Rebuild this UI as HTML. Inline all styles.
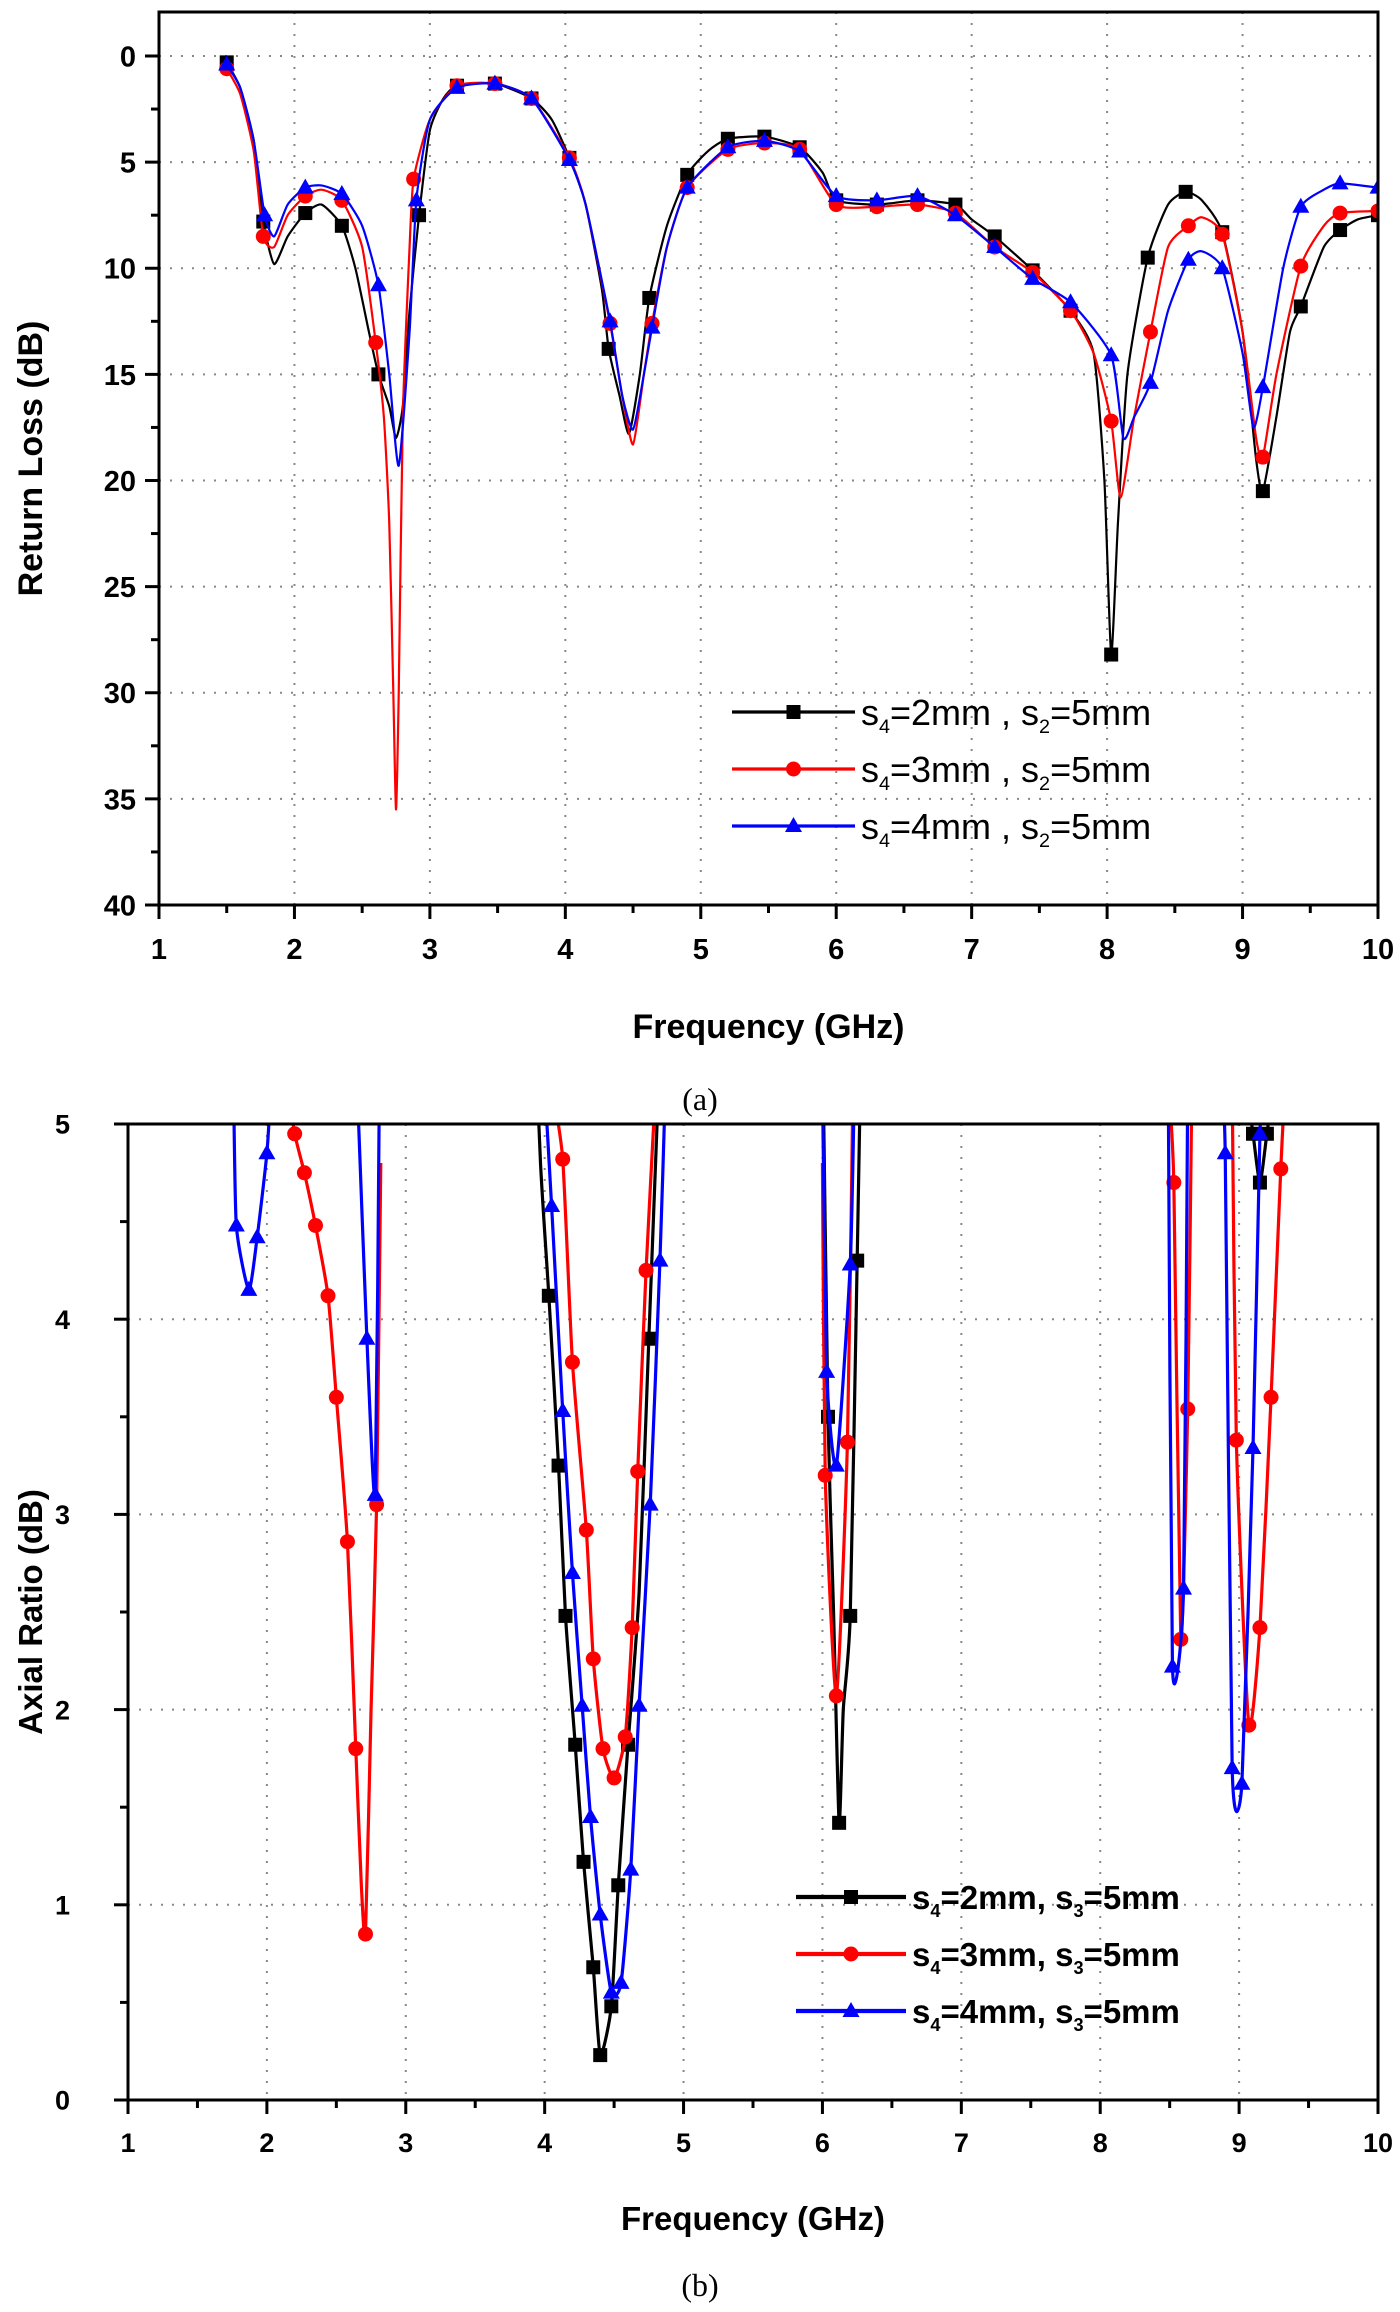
<!DOCTYPE html>
<html><head><meta charset="utf-8"><style>
body{margin:0;background:#fff;}
svg{display:block;font-family:"Liberation Sans",sans-serif;}
</style></head><body>
<svg id="s" width="1400" height="2312" viewBox="0 0 1400 2312"></svg>
<script>
// ---------- Chart (a) data: Return loss ----------
const aXTicks=[1,2,3,4,5,6,7,8,9,10];
const aYTicks=[0,5,10,15,20,25,30,35,40];
// [freq, dB, marker(1/0)]
const aS2=[[1.5,0.3,1],[1.6,1.5,0],[1.7,4,0],[1.77,7.8,1],[1.85,9.8,0],[1.95,8.5,0],[2.08,7.4,1],[2.2,7,0],[2.35,8,1],[2.45,10,0],[2.55,13,0],[2.62,15,1],[2.7,16.5,0],[2.75,18,0],[2.8,16.5,0],[2.85,12,0],[2.92,7.5,1],[3.0,3.5,0],[3.1,2,0],[3.2,1.4,1],[3.48,1.3,1],[3.75,2,1],[3.9,3,0],[4.03,4.8,1],[4.15,7,0],[4.27,11,0],[4.32,13.8,1],[4.4,16,0],[4.47,17.8,0],[4.55,15,0],[4.62,11.4,1],[4.75,8,0],[4.9,5.6,1],[5.05,4.5,0],[5.2,3.9,1],[5.47,3.8,1],[5.73,4.3,1],[5.9,5.5,0],[6.0,6.8,1],[6.3,7,1],[6.6,6.8,1],[6.88,7,1],[7.0,7.7,0],[7.17,8.5,1],[7.45,10.1,1],[7.73,12,1],[7.9,14,0],[7.98,20,0],[8.03,28.2,1],[8.08,22,0],[8.15,15,0],[8.3,9.5,1],[8.45,7,0],[8.58,6.4,1],[8.7,6.8,0],[8.85,8.3,1],[9.0,13,0],[9.1,19,0],[9.15,20.5,1],[9.25,17,0],[9.35,13,0],[9.43,11.8,1],[9.6,9,0],[9.72,8.2,1],[9.85,7.7,0],[10,7.5,1]];
const aS3=[[1.5,0.6,1],[1.6,1.8,0],[1.7,4.5,0],[1.77,8.5,1],[1.85,9,0],[1.95,7.5,0],[2.08,6.6,1],[2.2,6.3,0],[2.35,6.8,1],[2.5,9,0],[2.6,13.5,1],[2.66,17,0],[2.7,22,0],[2.73,30,0],[2.75,35.5,0],[2.77,30,0],[2.8,17,0],[2.85,9,0],[2.88,5.8,1],[3.0,3,0],[3.2,1.4,1],[3.48,1.3,1],[3.75,2,1],[4.03,4.8,1],[4.15,7,0],[4.33,12.6,1],[4.42,16,0],[4.5,18.3,0],[4.58,15,0],[4.64,12.6,1],[4.75,9,0],[4.9,6.2,1],[5.2,4.4,1],[5.47,4.1,1],[5.73,4.4,1],[6.0,7,1],[6.3,7.1,1],[6.6,7,1],[6.88,7.4,1],[7.17,9,1],[7.45,10.2,1],[7.73,12,1],[7.9,14,0],[8.03,17.2,1],[8.1,20.8,0],[8.2,17,0],[8.32,13,1],[8.45,9,0],[8.6,8,1],[8.7,7.6,0],[8.85,8.4,1],[9.0,13,0],[9.1,18,0],[9.15,18.9,1],[9.25,15,0],[9.43,9.9,1],[9.6,8,0],[9.72,7.4,1],[10,7.3,1]];
const aS4=[[1.5,0.4,1],[1.6,1.5,0],[1.7,4,0],[1.78,7.5,1],[1.85,8.5,0],[1.95,7,0],[2.08,6.2,1],[2.2,6.1,0],[2.35,6.5,1],[2.5,8,0],[2.62,10.8,1],[2.7,15,0],[2.77,19.3,0],[2.85,13,0],[2.9,6.8,1],[3.0,3,0],[3.2,1.5,1],[3.48,1.3,1],[3.75,2,1],[4.03,4.9,1],[4.15,7,0],[4.33,12.5,1],[4.42,16,0],[4.5,17.6,0],[4.58,15,0],[4.64,12.8,1],[4.75,9,0],[4.9,6.2,1],[5.2,4.3,1],[5.47,4,1],[5.73,4.5,1],[6.0,6.6,1],[6.3,6.8,1],[6.6,6.6,1],[6.88,7.5,1],[7.17,9,1],[7.45,10.5,1],[7.73,11.6,1],[8.03,14.1,1],[8.12,18,0],[8.2,17,0],[8.32,15.4,1],[8.45,12,0],[8.6,9.6,1],[8.7,9.2,0],[8.85,10,1],[9.0,14,0],[9.08,17.5,0],[9.15,15.6,1],[9.3,10,0],[9.43,7.1,1],[9.6,6.3,0],[9.72,6,1],[10,6.2,1]];
// ---------- Chart (b) data: Axial ratio (branches) ----------
const bXTicks=[1,2,3,4,5,6,7,8,9,10];
const bYTicks=[0,1,2,3,4,5];
const bS2=[
 [[3.9,6,0],[3.97,4.8,0],[4.03,4.12,1],[4.1,3.25,1],[4.15,2.48,1],[4.22,1.82,1],[4.28,1.22,1],[4.35,0.68,1],[4.4,0.23,1],[4.48,0.48,1],[4.53,1.1,1],[4.6,1.82,1],[4.68,2.6,0],[4.75,3.9,1],[4.82,5.2,0]],
 [[6.0,5.5,0],[6.04,3.5,1],[6.08,2.5,0],[6.12,1.42,1],[6.15,2,0],[6.2,2.48,1],[6.25,4.3,1],[6.28,5.5,0]],
 [[9.05,5.2,0],[9.1,4.95,1],[9.15,4.7,1],[9.2,4.95,1],[9.25,5.2,0]]];
const bS3=[
 [[2.15,5.2,0],[2.2,4.95,1],[2.27,4.75,1],[2.35,4.48,1],[2.44,4.12,1],[2.5,3.6,1],[2.58,2.86,1],[2.64,1.8,1],[2.68,1.1,0],[2.71,0.85,1],[2.75,2,0],[2.79,3.05,1],[2.82,4.8,0]],
 [[4.05,5.2,0],[4.13,4.82,1],[4.2,3.78,1],[4.3,2.92,1],[4.35,2.26,1],[4.42,1.8,1],[4.5,1.65,1],[4.58,1.86,1],[4.63,2.42,1],[4.67,3.22,1],[4.73,4.25,1],[4.8,5.2,0]],
 [[6.0,4.8,0],[6.02,3.2,1],[6.1,2.07,1],[6.18,3.37,1],[6.22,5.2,0]],
 [[8.49,5.2,0],[8.53,4.7,1],[8.58,2.36,1],[8.63,3.54,1],[8.66,5.2,0]],
 [[8.95,5.2,0],[8.98,3.38,1],[9.07,1.92,1],[9.15,2.42,1],[9.23,3.6,1],[9.3,4.77,1],[9.33,5.2,0]]];
const bS4=[
 [[1.76,5.2,0],[1.78,4.48,1],[1.87,4.15,1],[1.93,4.42,1],[2.0,4.85,1],[2.03,5.2,0]],
 [[2.65,5.2,0],[2.72,3.9,1],[2.78,3.1,1],[2.81,5.2,0]],
 [[4.0,5.2,0],[4.05,4.58,1],[4.13,3.53,1],[4.2,2.7,1],[4.27,2.02,1],[4.33,1.45,1],[4.4,0.95,1],[4.48,0.55,1],[4.55,0.6,1],[4.62,1.18,1],[4.68,2.02,1],[4.76,3.05,1],[4.83,4.3,1],[4.87,5.2,0]],
 [[6.0,5.2,0],[6.03,3.73,1],[6.1,3.25,1],[6.2,4.28,1],[6.23,5.2,0]],
 [[8.49,5.2,0],[8.52,2.22,1],[8.6,2.62,1],[8.63,5.2,0]],
 [[8.87,5.2,0],[8.9,4.85,1],[8.95,1.7,1],[9.02,1.62,1],[9.1,3.34,1],[9.15,4.95,1],[9.17,5.2,0]]];

const NS='http://www.w3.org/2000/svg';
const svg=document.getElementById('s');
function mk(tag,attrs,parent){const e=document.createElementNS(NS,tag);for(const k in attrs)e.setAttribute(k,attrs[k]);(parent||svg).appendChild(e);return e;}
function smooth(pts){let d='M'+pts[0][0]+','+pts[0][1];for(let i=0;i<pts.length-1;i++){const p0=pts[i-1]||pts[i],p1=pts[i],p2=pts[i+1],p3=pts[i+2]||p2;const t=0.1;d+=' C'+(p1[0]+(p2[0]-p0[0])*t)+','+(p1[1]+(p2[1]-p0[1])*t)+' '+(p2[0]-(p3[0]-p1[0])*t)+','+(p2[1]-(p3[1]-p1[1])*t)+' '+p2[0]+','+p2[1];}return d;}
function marker(g,kind,x,y,col){
 if(kind==='sq'){const m=mk('rect',{x:x-7,y:y-7,width:14,height:14,fill:col},g);}
 else if(kind==='ci'){const m=mk('circle',{cx:x,cy:y,r:7.5,fill:col},g);}
 else {const m=mk('polygon',{points:(x)+','+(y-9)+' '+(x-8.5)+','+(y+6)+' '+(x+8.5)+','+(y+6),fill:col},g);}
}
function chart(o){
 const g=mk('g',{});
 const X=v=>o.x0+(v-o.xmin)/(o.xmax-o.xmin)*(o.x1-o.x0);
 const Y=v=>o.yZero+(v-o.yv0)/(o.yv1-o.yv0)*(o.yOne-o.yZero);
 const cid='clip'+o.name;const cp=mk('clipPath',{id:cid},g);mk('rect',{x:o.x0,y:o.top,width:o.x1-o.x0,height:o.bot-o.top},cp);
 const gg=mk('g',{stroke:'#888','stroke-width':2,'stroke-dasharray':'2,9'},g);
 o.xt.forEach(v=>{if(v>o.xmin&&v<o.xmax)mk('line',{x1:X(v),x2:X(v),y1:o.top,y2:o.bot},gg);});
 o.yt.forEach(v=>{const y=Y(v);if(y>o.top+2&&y<o.bot-2)mk('line',{x1:o.x0,x2:o.x1,y1:y,y2:y},gg);});
 o.series.forEach(s=>{const sg=mk('g',{'clip-path':'url(#'+cid+')'},g);
  s.branches.forEach(br=>{const pts=br.map(p=>[X(p[0]),Y(p[1])]);const pa=mk('path',{d:smooth(pts),fill:'none',stroke:s.col,'stroke-width':o.lw},sg);
   br.forEach(p=>{if(p[2])marker(sg,s.kind,X(p[0]),Y(p[1]),s.col);});});});
 const fr=mk('rect',{x:o.x0,y:o.top,width:o.x1-o.x0,height:o.bot-o.top,fill:'none',stroke:'#000','stroke-width':3},g);
 const tg=mk('g',{stroke:'#000','stroke-width':3},g);
 for(let v=o.xmin;v<=o.xmax+1e-9;v+=0.5){const major=Math.abs(v-Math.round(v))<1e-6;mk('line',{x1:X(v),x2:X(v),y1:o.bot,y2:o.bot+(major?14:8)},tg);}
 for(let i=0;i<o.yt.length;i++){const v=o.yt[i];mk('line',{x1:o.x0,x2:o.x0-14,y1:Y(v),y2:Y(v)},tg);if(i<o.yt.length-1){const m=(v+o.yt[i+1])/2;mk('line',{x1:o.x0,x2:o.x0-8,y1:Y(m),y2:Y(m)},tg);}}
 o.xt.forEach(v=>{const t=mk('text',{x:X(v),y:o.bot+o.xlOff,'text-anchor':'middle','font-size':o.tfs,'font-weight':'bold',fill:'#000'},g);t.textContent=v;});
 o.yt.forEach(v=>{const t=mk('text',{x:o.ylX,y:Y(v)+o.tfs*0.36,'text-anchor':'end','font-size':o.tfs,'font-weight':'bold',fill:'#000'},g);t.textContent=v;});
 const xt=mk('text',{x:(o.x0+o.x1)/2,y:o.xtY,'text-anchor':'middle','font-size':o.afs,'font-weight':'bold',fill:'#000'},g);xt.textContent='Frequency (GHz)';
 const yt=mk('text',{x:0,y:0,transform:'translate('+o.ytX+','+((o.top+o.bot)/2)+') rotate(-90)','text-anchor':'middle','font-size':o.afs,'font-weight':'bold',fill:'#000'},g);yt.textContent=o.ytitle;
 const lg=mk('g',{},g);
 o.series.forEach((s,i)=>{const y=o.lgY+i*o.lgStep;const e=mk('g',{},lg);
  mk('line',{x1:o.lgX0,x2:o.lgX1,y1:y,y2:y,stroke:s.col,'stroke-width':o.lw+1},e);marker(e,s.kind,(o.lgX0+o.lgX1)/2,y,s.col);
  const t=mk('text',{x:o.lgX1+6,y:y+o.lfs*0.36,'font-size':o.lfs,'font-weight':o.lbold?'bold':'normal',fill:'#000'},e);
  t.innerHTML='s<tspan font-size="'+(o.lfs*0.55)+'" dy="8">4</tspan><tspan dy="-8">='+s.mm+'mm'+o.lsep+'s</tspan><tspan font-size="'+(o.lfs*0.55)+'" dy="8">'+o.lsub+'</tspan><tspan dy="-8">=5mm</tspan>';});
 return g;
}
chart({name:'return-loss-chart',x0:159,x1:1378,xmin:1,xmax:10,top:12,bot:905,yZero:56,yOne:905,yv0:0,yv1:40,xt:aXTicks,yt:aYTicks,lw:2.2,tfs:29,afs:34,xlOff:54,ylX:136,xtY:1038,ytX:42,ytitle:'Return Loss (dB)',
 series:[{name:'series-s4-2mm',col:'#000',kind:'sq',mm:2,branches:[aS2]},{name:'series-s4-3mm',col:'#ff0000',kind:'ci',mm:3,branches:[aS3]},{name:'series-s4-4mm',col:'#0000ff',kind:'tr',mm:4,branches:[aS4]}],
 lgX0:732,lgX1:855,lgY:712,lgStep:57,lfs:36,lbold:false,lsep:' , ',lsub:'2'});
chart({name:'axial-ratio-chart',x0:128,x1:1378,xmin:1,xmax:10,top:1124,bot:2100,yZero:2100,yOne:1124,yv0:0,yv1:5,xt:bXTicks,yt:bYTicks,lw:3.2,tfs:27,afs:33,xlOff:52,ylX:70,xtY:2230,ytX:42,ytitle:'Axial Ratio (dB)',
 series:[{name:'series-s4-2mm',col:'#000',kind:'sq',mm:2,branches:bS2},{name:'series-s4-3mm',col:'#ff0000',kind:'ci',mm:3,branches:bS3},{name:'series-s4-4mm',col:'#0000ff',kind:'tr',mm:4,branches:bS4}],
 lgX0:796,lgX1:906,lgY:1897,lgStep:57,lfs:33,lbold:true,lsep:', ',lsub:'3'});
const ca=mk('text',{x:700,y:1110,'text-anchor':'middle','font-size':32,'font-family':'Liberation Serif, serif'});ca.textContent='(a)';
const cb=mk('text',{x:700,y:2296,'text-anchor':'middle','font-size':32,'font-family':'Liberation Serif, serif'});cb.textContent='(b)';
</script>
</body></html>
